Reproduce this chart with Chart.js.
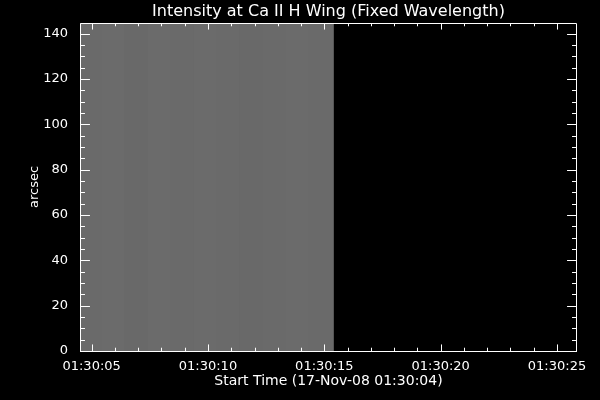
<!DOCTYPE html>
<html>
<head>
<meta charset="utf-8">
<script src="https://cdn.jsdelivr.net/npm/chart.js@4"></script>
<style>
	html, body { margin: 0; padding: 0; background: #000; }
	#wrap { width: 600px; height: 400px; }
</style>
</head>
<body>
<div id="wrap"><canvas id="chart"></canvas></div>
<script>
// seconds after 01:30:00
const xMin = 4.5;
const xMax = 25.86;
const yMin = 0;
const yMax = 144.7;

// image columns (centre time, s) and their grey level (0-255)
const columnTimes = [4.99, 5.98, 6.96, 7.95, 8.94, 9.93, 10.91, 11.90, 12.89, 13.87, 14.86];
const columnGrey = [106, 107, 105, 107, 106, 107, 106, 105, 106, 107, 106];
const edgeTime = 15.33;

const xTickValues = [5, 10, 15, 20, 25];
const xTickLabels = ['01:30:05', '01:30:10', '01:30:15', '01:30:20', '01:30:25'];
const xMinorTicks = [6, 7, 8, 9, 11, 12, 13, 14, 16, 17, 18, 19, 21, 22, 23, 24];
const yTickValues = [0, 20, 40, 60, 80, 100, 120, 140];
const yMinorTicks = [5, 10, 15, 25, 30, 35, 45, 50, 55, 65, 70, 75, 85, 90, 95, 105, 110, 115, 125, 130, 135];


// black page + IDL style box with inward ticks on all four sides
const idlFrame = {
	id: 'idlFrame',
	beforeDraw(chart) {
		const ctx = chart.ctx;
		ctx.save();
		ctx.fillStyle = '#000';
		ctx.fillRect(0, 0, chart.width, chart.height);
		ctx.restore();
	},
	afterDatasetsDraw(chart) {
		const {ctx, chartArea: a, scales: {x, y}} = chart;
		const xLen = (a.bottom - a.top) * 0.02;
		const yLen = (a.right - a.left) * 0.02;
		ctx.save();
		ctx.strokeStyle = '#fff';
		ctx.lineWidth = 1;
		ctx.beginPath();
		ctx.rect(Math.round(a.left) + 0.5, Math.round(a.top) + 0.5, Math.round(a.right - a.left) - 1, Math.round(a.bottom - a.top));
		const xTick = (v, len)=>{
			const px = Math.round(x.getPixelForValue(v)) + 0.5;
			ctx.moveTo(px, a.bottom); ctx.lineTo(px, a.bottom - len);
			ctx.moveTo(px, a.top); ctx.lineTo(px, a.top + len);
		};
		const yTick = (v, len)=>{
			const py = Math.round(y.getPixelForValue(v)) + 0.5;
			ctx.moveTo(a.left, py); ctx.lineTo(a.left + len, py);
			ctx.moveTo(a.right, py); ctx.lineTo(a.right - len, py);
		};
		xTickValues.forEach(v=>xTick(v, xLen));
		xMinorTicks.forEach(v=>xTick(v, xLen / 2));
		yTickValues.forEach(v=>yTick(v, yLen));
		yMinorTicks.forEach(v=>yTick(v, yLen / 2));
		ctx.stroke();
		ctx.restore();
	}
};

const font = { family: 'DejaVu Sans', size: 13, lineHeight: 1 };

new Chart(document.getElementById('chart'), {
	type: 'bar',
	data: {
		datasets: [
			{
				label: 'Intensity',
				data: columnTimes.map(t=>({ x: t, y: [yMin, yMax] })),
				backgroundColor: columnGrey.map(g=>`rgb(${g}, ${g}, ${g})`),
				borderWidth: 0,
				barPercentage: 1.12,
				categoryPercentage: 1,
				grouped: false
			},
			{
				label: 'edge',
				type: 'line',
				data: [{ x: edgeTime, y: yMin }, { x: edgeTime, y: yMax }],
				borderColor: 'rgb(58, 58, 58)',
				borderWidth: 1.2,
				pointRadius: 0
			}
		]
	},
	options: {
		responsive: true,
		maintainAspectRatio: false,
		animation: false,
		layout: { padding: { left: 0, right: 23, top: 0, bottom: 0 } },
		plugins: {
			legend: { display: false },
			tooltip: { enabled: false },
			title: {
				display: true,
				text: 'Intensity at Ca II H Wing (Fixed Wavelength)',
				color: '#fff',
				fullSize: false,
				font: { family: 'DejaVu Sans', size: 16, weight: 'normal', lineHeight: 1 },
				padding: { top: 4, bottom: 3 }
			}
		},
		scales: {
			x: {
				type: 'linear',
				min: xMin,
				max: xMax,
				offset: false,
				grid: { display: false, offset: false },
				border: { display: false },
				afterBuildTicks: s=>{ s.ticks = xTickValues.map(v=>({ value: v })); },
				afterFit: s=>{ s.height = 49; },
				ticks: {
					color: '#fff',
					font,
					padding: 1,
					maxRotation: 0,
					autoSkip: false,
					callback: v=>xTickLabels[xTickValues.indexOf(v)]
				},
				title: {
					display: true,
					text: 'Start Time (17-Nov-08 01:30:04)',
					color: '#fff',
					font: { family: 'DejaVu Sans', size: 14, lineHeight: 1 },
					padding: { top: 12, bottom: 12 }
				}
			},
			y: {
				min: yMin,
				max: yMax,
				grid: { display: false },
				border: { display: false },
				afterBuildTicks: s=>{ s.ticks = yTickValues.map(v=>({ value: v })); },
				afterFit: s=>{ s.width = 80; },
				ticks: {
					color: '#fff',
					font,
					padding: 4,
					callback: v=>String(v)
				},
				title: {
					display: true,
					text: 'arcsec',
					color: '#fff',
					font,
					padding: { top: 28, bottom: 28 }
				}
			}
		}
	},
	plugins: [idlFrame]
});
</script>
</body>
</html>
